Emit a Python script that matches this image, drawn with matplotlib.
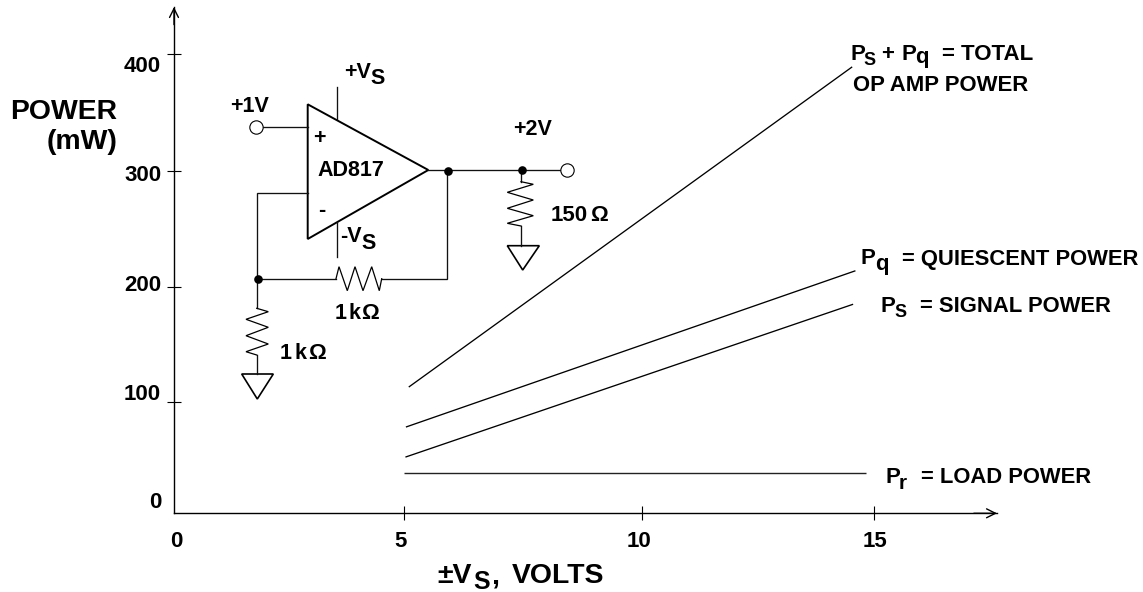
"""AD817 power dissipation vs supply voltage, with the test circuit drawn on top."""
import matplotlib

matplotlib.use("Agg")
import matplotlib.pyplot as plt
import numpy as np
from matplotlib.patches import Polygon
from matplotlib.transforms import Affine2D

plt.rcParams["font.family"] = ["Liberation Sans", "DejaVu Sans"]
plt.rcParams["font.weight"] = "bold"

W, H = 1143, 592

# chart values
X_TICKS = [0, 5, 10, 15]
Y_TICKS = [0, 100, 200, 300, 400]
X_END = 17.65
Y_END = 440

TOTAL_V = [5.1, 14.53]
TOTAL_MW = [113, 389]
QUIESCENT_V = [5.04, 14.6]
QUIESCENT_MW = [77.5, 214]
SIGNAL_V = [5.03, 14.55]
SIGNAL_MW = [50.5, 185]
LOAD_V = [4.99, 14.82]
LOAD_MW = [36, 36]

# the original is a hand drawing, its tick marks are not evenly spaced
X_PIX = [174, 404, 642, 874, 997]
Y_PIX = [513.3, 402, 287, 171, 54, 7]


def x_fwd(v):
    return np.interp(v, X_TICKS + [X_END], X_PIX)


def x_inv(p):
    return np.interp(p, X_PIX, X_TICKS + [X_END])


def y_fwd(v):
    return np.interp(v, Y_TICKS + [Y_END], -np.array(Y_PIX))


def y_inv(p):
    return np.interp(p, -np.array(Y_PIX), Y_TICKS + [Y_END])


fig = plt.figure(figsize=(W / 100, H / 100), dpi=100)
ax = fig.add_axes([X_PIX[0] / W, 1 - Y_PIX[0] / H, (X_PIX[-1] - X_PIX[0]) / W, (Y_PIX[0] - Y_PIX[-1]) / H])
over = fig.add_axes([0, 0, 1, 1], zorder=3)
over.set_xlim(0, W)
over.set_ylim(H, 0)
over.axis("off")

# chart
ax.set_xscale("function", functions=(x_fwd, x_inv))
ax.set_yscale("function", functions=(y_fwd, y_inv))
ax.set_xlim(0, X_END)
ax.set_ylim(0, Y_END)
for s in ("top", "right"):
    ax.spines[s].set_visible(False)
for s in ("left", "bottom"):
    ax.spines[s].set_linewidth(1.0)

for xs, ys in [(TOTAL_V, TOTAL_MW), (QUIESCENT_V, QUIESCENT_MW), (SIGNAL_V, SIGNAL_MW)]:
    ax.plot(xs, ys, color="black", lw=0.95, solid_capstyle="butt")
ax.plot(LOAD_V, LOAD_MW, color="#222222", lw=1.0, solid_capstyle="butt")

ax.set_xticks(X_TICKS)
ax.set_yticks(Y_TICKS)
ax.set_xticklabels([str(v) for v in X_TICKS], fontsize=16, fontweight="bold")
ax.set_yticklabels([str(v) for v in Y_TICKS], fontsize=16, fontweight="bold")
ax.tick_params(axis="both", which="major", direction="inout", length=9.8, width=0.8, color="black")
ax.tick_params(axis="x", pad=7.5)
ax.tick_params(axis="y", pad=4.3)
ax.minorticks_off()

# labels sit off their ticks in the original
for tick, dx in zip(ax.xaxis.get_major_ticks(), [2, -3, -3, 1]):
    tick.label1.set_transform(tick.label1.get_transform() + Affine2D().translate(dx, 0))
for tick, dy in zip(ax.yaxis.get_major_ticks(), [13, 10, 3.7, -2, -10]):
    tick.label1.set_transform(tick.label1.get_transform() + Affine2D().translate(0, dy))
ax.xaxis.get_major_ticks()[0].tick1line.set_visible(False)
ax.yaxis.get_major_ticks()[0].tick1line.set_visible(False)

ax.annotate("", xy=(X_END, 0), xytext=(X_END - 0.5, 0),
            arrowprops=dict(arrowstyle="->", lw=1.0, color="black", mutation_scale=16, shrinkA=0, shrinkB=0))
ax.annotate("", xy=(0, Y_END), xytext=(0, Y_END - 15),
            arrowprops=dict(arrowstyle="->", lw=1.0, color="black", mutation_scale=16, shrinkA=0, shrinkB=0))

ax.set_ylabel("POWER\n(mW)", fontsize=20.4, fontweight="bold", rotation=0, ha="right", va="center",
              multialignment="right", linespacing=1.2)
ax.yaxis.set_label_coords(117.5, 127, transform=over.transData)

# text runs: string, left, baseline, size
TEXT_RUNS = [
    ("\u00b1V", 437, 583, 20.4), ("S", 473, 589, 18), (",", 491.5, 583, 20.4), ("VOLTS", 511.5, 583, 20.4),
    ("P", 850, 59.5, 16), ("S", 863, 65, 13), ("+", 881.5, 59.5, 16), ("P", 901.5, 59.5, 16),
    ("q", 915, 63.5, 16), ("= TOTAL", 941.5, 59.5, 16),
    ("OP AMP POWER", 853, 91, 15.9),
    ("P", 861, 264.5, 16), ("q", 875, 270, 16), ("= QUIESCENT POWER", 901.5, 264.5, 15.8),
    ("P", 880.5, 311.5, 16), ("S", 894, 317, 13), ("= SIGNAL POWER", 920, 311.5, 15.8),
    ("P", 885.5, 483, 16), ("r", 899, 489, 15), ("= LOAD POWER", 921, 483, 15.8),
    ("+V", 344, 78.5, 15.5), ("S", 370, 84.5, 15.5),
    ("+1V", 230, 112.5, 15.5), ("+", 313, 144, 15.5), ("AD817", 317, 176, 15.5),
    ("-", 318, 216, 15.5), ("-V", 340, 242, 15.5), ("S", 361.5, 249, 15.5),
    ("+2V", 513, 135, 15.5), ("150", 550.5, 221, 16), ("\u03a9", 590.5, 221, 16),
    ("1", 335, 319, 15.5), ("k", 348.5, 319, 15.5), ("\u03a9", 361.5, 319, 16),
    ("1", 280, 359, 15.5), ("k", 294, 359, 15.5), ("\u03a9", 308, 359, 16),
]
for label, px, py, size in TEXT_RUNS:
    over.text(px, py, label, fontsize=size, fontweight="bold", ha="left", va="baseline", color="black")

# test circuit, pixel positions
AMP = [(307.7, 104.3), (428.3, 170), (307.7, 239)]
WIRES = [
    [(336.7, 86.7), (336.7, 119)],
    [(337, 221.7), (337, 256.7)],
    [(262.7, 127.3), (307.7, 127.3)],
    [(307.7, 192.7), (256.7, 192.7), (256.7, 308.3)],
    [(428.3, 170), (559.7, 170)],
    [(447.3, 170), (447.3, 278.7), (381.7, 278.7)],
    [(336, 278.7), (256.7, 278.7)],
    [(521, 170), (521, 181.7)],
    [(521, 226), (521, 245.7)],
    [(256.7, 355), (256.7, 374)],
]
RESISTORS = [
    [(336, 278.7), (339, 266.7), (347.3, 290.7), (355, 266.7), (363, 290.7), (371.7, 266.7), (379.3, 290.7), (381.7, 278.7)],
    [(256.7, 308.3), (268.3, 311.7), (246, 319.3), (268.3, 327.3), (246, 335.7), (268.3, 344), (246, 351.7), (256.7, 355)],
    [(521, 181.7), (533.3, 184.3), (507.3, 192.3), (533.3, 200), (507.3, 208.3), (533.3, 215.7), (507.3, 223.3), (521, 226)],
]
GROUNDS = [
    [(241.7, 374), (273.3, 374), (257.3, 399)],
    [(507.3, 245.7), (539.3, 245.7), (522.7, 270)],
]
JUNCTIONS = [(258, 278.7), (448.3, 170.5), (521.7, 170)]
TERMINALS = [(255.7, 127.3), (566.7, 170)]

for pts in WIRES:
    xs, ys = zip(*pts)
    over.plot(xs, ys, color="#111111", lw=0.95, solid_joinstyle="miter")
for pts in RESISTORS:
    xs, ys = zip(*pts)
    over.plot(xs, ys, color="black", lw=0.9, solid_joinstyle="miter")
over.add_patch(Polygon(AMP, closed=True, fc="none", ec="black", lw=1.4, joinstyle="miter"))
for pts in GROUNDS:
    over.add_patch(Polygon(pts, closed=True, fc="none", ec="black", lw=1.2, joinstyle="miter"))
for px, py in JUNCTIONS:
    over.plot([px], [py], "o", color="black", ms=6.2, mew=0)
for px, py in TERMINALS:
    over.plot([px], [py], "o", mfc="white", mec="black", ms=9.6, mew=0.8)

over.set_xlim(0, W)
over.set_ylim(H, 0)

fig.savefig("out.png", dpi=100)
